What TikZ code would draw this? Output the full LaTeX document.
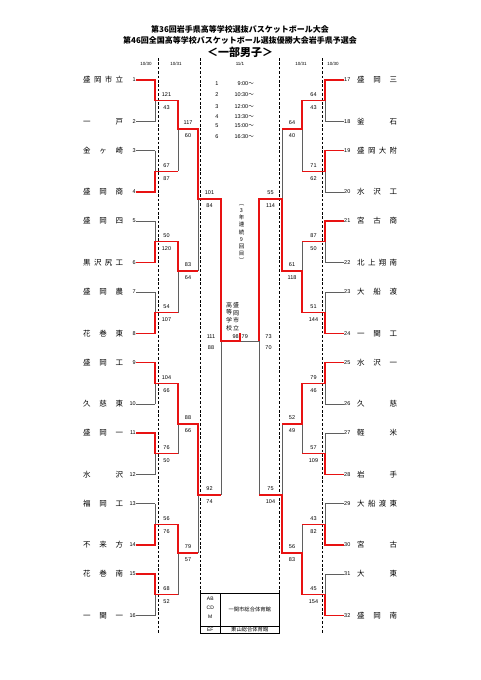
\documentclass[tikz,border=0pt]{standalone}
\usepackage{fontspec}
\setmainfont{Liberation Sans}
\newfontfamily\jp{Noto Sans CJK JP}
\pgfdeclarelayer{bgl}
\pgfdeclarelayer{grl}
\pgfsetlayers{bgl,grl,main}
\definecolor{wred}{RGB}{232,18,18}
\definecolor{lgray}{RGB}{95,95,95}
\tikzset{
  gline/.style={draw=lgray, line width=0.6pt},
  rline/.style={draw=wred, line width=1.3pt, line join=miter},
  score/.style={font=\fontsize{5.5}{6}\selectfont, inner sep=0pt},
  tnum/.style={font=\fontsize{5.5}{6}\selectfont, inner sep=0pt},
  tname/.style={font=\jp\fontsize{7.5}{8}\selectfont, inner sep=0pt, anchor=west},
  vdash/.style={draw=black, line width=0.6pt, dash pattern=on 2.6pt off 1.8pt},
  datel/.style={font=\fontsize{4.5}{5}\selectfont, inner sep=0pt},
  sched/.style={font=\fontsize{5.5}{6}\selectfont, inner sep=0pt},
  boxt/.style={font=\fontsize{5}{6}\selectfont, inner sep=0pt},
}
\newcommand\jn[1]{\makebox[40pt][s]{#1}}
\newcommand\lteam[3]{%
  \node[tnum,anchor=east] (n#1) at (136,#2) {#1};
  \node[tname] (nm#1) at (83,#2) {\jn{#3}};
  \coordinate (s#1) at (155,#2);
  \begin{pgfonlayer}{grl}\draw[gline] (n#1.east) -- (s#1);\end{pgfonlayer}}
\newcommand\rteam[3]{%
  \node[tnum,anchor=west] (n#1) at (344,#2) {#1};
  \node[tname] (nm#1) at (357,#2) {\jn{#3}};
  \coordinate (s#1) at (325,#2);
  \begin{pgfonlayer}{grl}\draw[gline] (n#1.west) -- (s#1);\end{pgfonlayer}}
% name, xprev, x, xnext, ytop, ybot, yout, score top, score bottom
\newcommand\mt[9]{%
  \coordinate (#1-t) at (#3,#5);
  \coordinate (#1-b) at (#3,#6);
  \coordinate (#1-o) at (#3,#7);
  \coordinate (#1-n) at (#4,#7);
  \ifnum#8>#9\relax
    \coordinate (#1-p) at (#2,#5); \coordinate (#1-w) at (#3,#5);
  \else
    \coordinate (#1-p) at (#2,#6); \coordinate (#1-w) at (#3,#6);
  \fi
  \begin{pgfonlayer}{grl}\draw[gline] (#1-t) -- (#1-b);\end{pgfonlayer}
  \draw[rline] (#1-p) -- (#1-w) -- (#1-o) -- (#1-n);
  \node[score] (#1-s1) at ({(#3+#4)/2},{#7-6}) {#8};
  \node[score] (#1-s2) at ({(#3+#4)/2},{#7+7}) {#9};
}
\begin{document}
\begin{tikzpicture}[x=1pt,y=-1pt]
\begin{pgfonlayer}{bgl}
\fill[white] (0,0) rectangle (481,680);
\end{pgfonlayer}
\useasboundingbox (0,0) rectangle (481,680);

% titles
\node[font=\jp\bfseries\fontsize{8}{9}\selectfont, inner sep=0] (ti1) at (240,29.5) {第36回岩手県高等学校選抜バスケットボール大会};
\node[font=\jp\bfseries\fontsize{8}{9}\selectfont, inner sep=0] (ti2) at (240,40.5) {第46回全国高等学校バスケットボール選抜優勝大会岩手県予選会};
\node[font=\jp\bfseries\fontsize{11}{12}\selectfont, inner sep=0] (ti3) at (240,52.5) {＜一部男子＞};

% dates
\node[datel] (d1) at (146,64) {10/30};
\node[datel] (d2) at (176,64) {10/31};
\node[datel] (d3) at (240,64) {11/1};
\node[datel] (d4) at (301,64) {10/31};
\node[datel] (d5) at (333,64) {10/30};

% dashed day separators
\draw[vdash] (158,58) -- (158,633);
\draw[vdash] (200.5,58) -- (200.5,593);
\draw[vdash] (279.5,58) -- (279.5,593);
\draw[vdash] (322,58) -- (322,633);

% schedule
\foreach \k/\yy/\tt in {1/84/9:00, 2/94.5/10:30, 3/106.5/12:00, 4/117/13:30, 5/126/15:00, 6/136.5/16:30}{
  \node[sched] (sn\k) at (217,\yy) {\k};
  \node[sched,anchor=east] (st\k) at (254,\yy) {\tt{\jp 〜}};
}

% teams left
\lteam{1}{80}{盛\hfill 岡\hfill 市\hfill 立}
\lteam{2}{121.5}{一\hfill 戸}
\lteam{3}{150.5}{金\hfill ヶ\hfill 崎}
\lteam{4}{192}{盛\hfill 岡\hfill 商}
\lteam{5}{221}{盛\hfill 岡\hfill 四}
\lteam{6}{262.5}{黒\hfill 沢\hfill 尻\hfill 工}
\lteam{7}{292}{盛\hfill 岡\hfill 農}
\lteam{8}{333.5}{花\hfill 巻\hfill 東}
\lteam{9}{362.5}{盛\hfill 岡\hfill 工}
\lteam{10}{404}{久\hfill 慈\hfill 東}
\lteam{11}{433}{盛\hfill 岡\hfill 一}
\lteam{12}{474.5}{水\hfill 沢}
\lteam{13}{503.5}{福\hfill 岡\hfill 工}
\lteam{14}{545}{不\hfill 来\hfill 方}
\lteam{15}{574}{花\hfill 巻\hfill 南}
\lteam{16}{615.5}{一\hfill 関\hfill 一}
% teams right
\rteam{17}{80}{盛\hfill 岡\hfill 三}
\rteam{18}{121.5}{釜\hfill 石}
\rteam{19}{150.5}{盛\hfill 岡\hfill 大\hfill 附}
\rteam{20}{192}{水\hfill 沢\hfill 工}
\rteam{21}{221}{宮\hfill 古\hfill 商}
\rteam{22}{262.5}{北\hfill 上\hfill 翔\hfill 南}
\rteam{23}{292}{大\hfill 船\hfill 渡}
\rteam{24}{333.5}{一\hfill 関\hfill 工}
\rteam{25}{362.5}{水\hfill 沢\hfill 一}
\rteam{26}{404}{久\hfill 慈}
\rteam{27}{433}{軽\hfill 米}
\rteam{28}{474.5}{岩\hfill 手}
\rteam{29}{503.5}{大\hfill 船\hfill 渡\hfill 東}
\rteam{30}{545}{宮\hfill 古}
\rteam{31}{574}{大\hfill 東}
\rteam{32}{615.5}{盛\hfill 岡\hfill 南}

% left matches
\mt{L1}{136}{155}{178}{80}{121.5}{100.75}{121}{43}
\mt{L2}{136}{155}{178}{150.5}{192}{171.25}{67}{87}
\mt{L3}{136}{155}{178}{221}{262.5}{241.75}{50}{120}
\mt{L4}{136}{155}{178}{292}{333.5}{312.75}{54}{107}
\mt{L5}{136}{155}{178}{362.5}{404}{383.25}{104}{66}
\mt{L6}{136}{155}{178}{433}{474.5}{453.75}{76}{50}
\mt{L7}{136}{155}{178}{503.5}{545}{524.25}{56}{76}
\mt{L8}{136}{155}{178}{574}{615.5}{594.75}{68}{52}
\mt{L9}{155}{178}{198}{100.75}{171.25}{129}{117}{60}
\mt{L10}{155}{178}{198}{241.75}{312.75}{271}{83}{64}
\mt{L11}{155}{178}{198}{383.25}{453.75}{424}{88}{66}
\mt{L12}{155}{178}{198}{524.25}{594.75}{553}{79}{57}
\mt{L13}{178}{198}{221}{129}{271}{199}{101}{84}
\mt{L14}{178}{198}{221}{424}{553}{495}{92}{74}
% right matches
\mt{R1}{344}{325}{302}{80}{121.5}{100.75}{64}{43}
\mt{R2}{344}{325}{302}{150.5}{192}{171.25}{71}{62}
\mt{R3}{344}{325}{302}{221}{262.5}{241.75}{87}{50}
\mt{R4}{344}{325}{302}{292}{333.5}{312.75}{51}{144}
\mt{R5}{344}{325}{302}{362.5}{404}{383.25}{79}{46}
\mt{R6}{344}{325}{302}{433}{474.5}{453.75}{57}{109}
\mt{R7}{344}{325}{302}{503.5}{545}{524.25}{43}{82}
\mt{R8}{344}{325}{302}{574}{615.5}{594.75}{45}{154}
\mt{R9}{325}{302}{282}{100.75}{171.25}{129}{64}{40}
\mt{R10}{325}{302}{282}{241.75}{312.75}{271}{61}{118}
\mt{R11}{325}{302}{282}{383.25}{453.75}{424}{52}{49}
\mt{R12}{325}{302}{282}{524.25}{594.75}{553}{56}{83}
\mt{R13}{302}{282}{259}{129}{271}{199}{55}{114}
\mt{R14}{302}{282}{259}{424}{553}{495}{75}{104}

% semifinals and final
\coordinate (LS-t) at (221,199);
\coordinate (LS-b) at (221,495);
\coordinate (LS-o) at (221,341);
\coordinate (RS-t) at (259,199);
\coordinate (RS-b) at (259,495);
\coordinate (RS-o) at (259,341);
\coordinate (FC) at (240,341);
\coordinate (FT) at (240,333);
\begin{pgfonlayer}{grl}
\draw[gline] (LS-t) -- (LS-b);
\draw[gline] (RS-t) -- (RS-b);
\draw[gline] (RS-o) -- (FC);
\end{pgfonlayer}
\draw[rline] (L13-o) -- (LS-t) -- (LS-o) -- (FC) -- (FT);
\draw[rline] (R13-o) -- (RS-t) -- (RS-o);
\node[score] (ls1) at (211,336.5) {111};
\node[score] (ls2) at (211,348) {88};
\node[score] (rs1) at (268.5,336.5) {73};
\node[score] (rs2) at (268.5,348) {70};
\node[score,anchor=east] (f1) at (239,337) {98};
\node[score,anchor=west] (f2) at (241.5,337) {79};

% champion texts
\node[font=\jp\fontsize{5.5}{7.05}\selectfont, align=center, inner sep=0] (cnt) at (241.5,233.5) {︵\\3\\年\\連\\続\\9\\回\\目\\︶};
\node[font=\jp\fontsize{6}{7.6}\selectfont, align=center, inner sep=0] (ch1) at (236,316.5) {盛\\岡\\市\\立};
\node[font=\jp\fontsize{6}{7.6}\selectfont, align=center, inner sep=0] (ch2) at (229,316.5) {高\\等\\学\\校};

% venue box
\draw[black, line width=0.5pt] (200.5,593) rectangle (279.5,633);
\draw[black, line width=0.5pt] (220,593) -- (220,633);
\draw[black, line width=0.5pt] (200.5,626) -- (279.5,626);
\node[boxt] (vb1) at (210.25,598.5) {AB};
\node[boxt] (vb2) at (210.25,607.5) {CD};
\node[boxt] (vb3) at (210.25,616.5) {M};
\node[boxt] (vb4) at (210.25,629.7) {EF};
\node[boxt,font=\jp\fontsize{5.3}{6}\selectfont] (vn1) at (249.75,609.5) {一関市総合体育館};
\node[boxt,font=\jp\fontsize{5.3}{6}\selectfont] (vn2) at (249.75,629.7) {東山総合体育館};
\end{tikzpicture}
\end{document}
